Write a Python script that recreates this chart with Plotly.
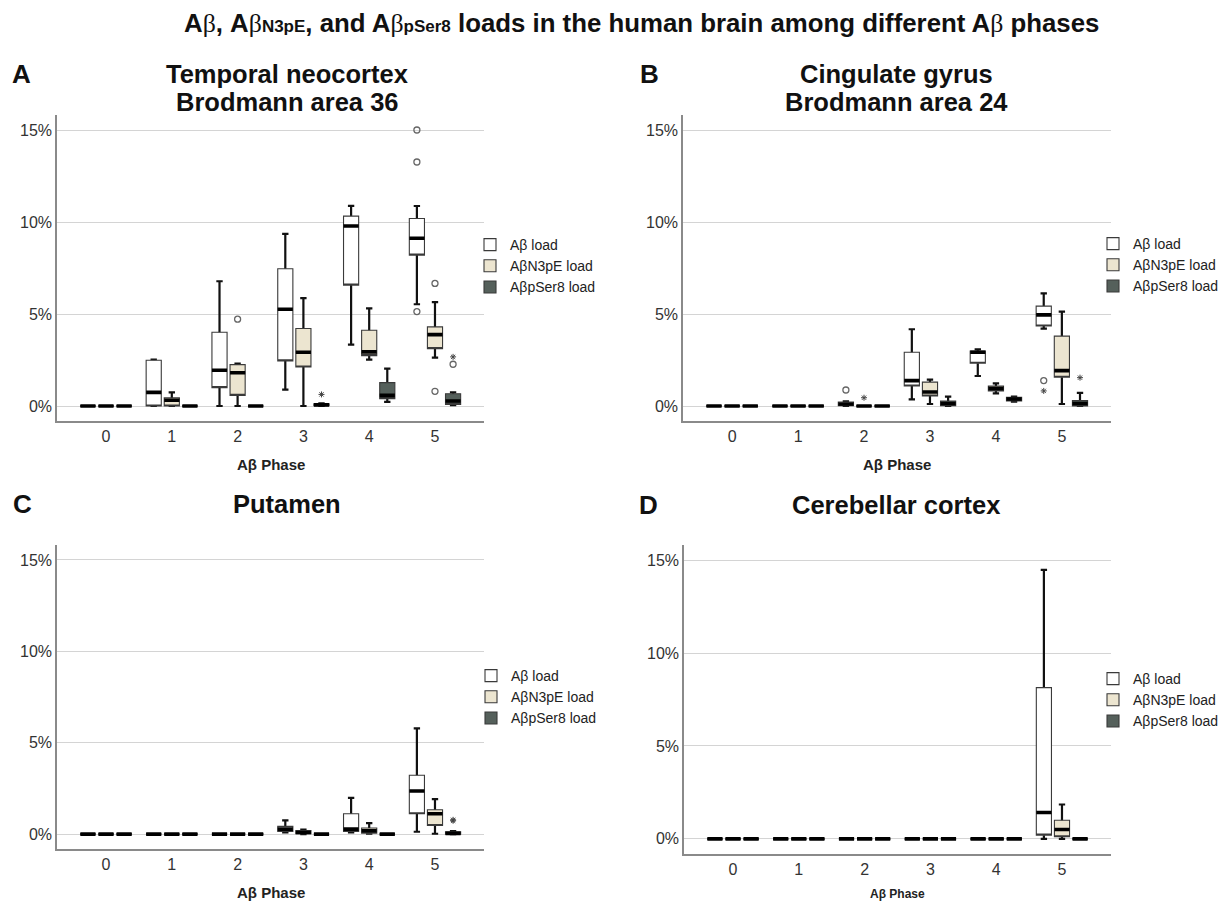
import plotly.graph_objects as go

# ---------------- data (percent load) ----------------
phases = [0, 1, 2, 3, 4, 5]
phase_labels = ["0", "1", "2", "3", "4", "5"]
series_names = ["Aβ load", "AβN3pE load", "AβpSer8 load"]
fill_colors = ["#ffffff", "#ece5d0", "#55605b"]

# each row: (lower whisker, Q1, median, Q3, upper whisker) for phases 0..5
A_ab = [(0, 0, 0, 0, 0), (0, 0, 0.74, 2.49, 2.52), (0, 1.00, 1.94, 4.01, 6.78),
        (0.89, 2.45, 5.26, 7.46, 9.36), (3.34, 6.57, 9.78, 10.32, 10.88), (5.53, 8.20, 9.12, 10.19, 10.87)]
A_n3pe = [(0, 0, 0, 0, 0), (0, 0, 0.31, 0.44, 0.74), (0, 0.58, 1.81, 2.25, 2.30),
          (0, 2.12, 2.92, 4.21, 5.86), (2.52, 2.74, 2.94, 4.12, 5.31), (2.63, 3.12, 3.88, 4.30, 5.64)]
A_pser8 = [(0, 0, 0, 0, 0), (0, 0, 0, 0, 0), (0, 0, 0, 0, 0),
           (0, 0.02, 0.06, 0.12, 0.15), (0.22, 0.40, 0.58, 1.27, 2.03), (0.04, 0.09, 0.27, 0.67, 0.74)]

B_ab = [(0, 0, 0, 0, 0), (0, 0, 0, 0, 0), (0, 0.02, 0.11, 0.22, 0.25),
        (0.36, 1.09, 1.38, 2.92, 4.17), (1.63, 2.32, 2.92, 2.99, 3.08), (4.20, 4.35, 4.95, 5.43, 6.12)]
B_n3pe = [(0, 0, 0, 0, 0), (0, 0, 0, 0, 0), (0, 0, 0, 0, 0),
          (0.11, 0.54, 0.76, 1.30, 1.43), (0.69, 0.82, 0.96, 1.09, 1.23), (0.11, 1.56, 1.92, 3.80, 5.13)]
B_pser8 = [(0, 0, 0, 0, 0), (0, 0, 0, 0, 0), (0, 0, 0, 0, 0),
           (0, 0.02, 0.14, 0.27, 0.51), (0.24, 0.27, 0.38, 0.47, 0.51), (0, 0, 0.14, 0.29, 0.71)]

C_ab = [(0, 0, 0, 0, 0), (0, 0, 0, 0, 0), (0, 0, 0, 0, 0),
        (0.09, 0.15, 0.27, 0.42, 0.75), (0.09, 0.15, 0.27, 1.11, 1.98), (0.13, 1.11, 2.36, 3.22, 5.78)]
C_n3pe = [(0, 0, 0, 0, 0), (0, 0, 0, 0, 0), (0, 0, 0, 0, 0),
          (0, 0.02, 0.09, 0.20, 0.24), (0.02, 0.05, 0.18, 0.33, 0.60), (0.02, 0.47, 1.11, 1.33, 1.91)]
C_pser8 = [(0, 0, 0, 0, 0), (0, 0, 0, 0, 0), (0, 0, 0, 0, 0),
           (0, 0, 0, 0, 0), (0, 0, 0, 0, 0), (0, 0, 0.04, 0.13, 0.16)]

D_ab = [(0, 0, 0, 0, 0), (0, 0, 0, 0, 0), (0, 0, 0, 0, 0),
        (0, 0, 0, 0, 0), (0, 0, 0, 0, 0), (0, 0.20, 1.42, 8.14, 14.48)]
D_n3pe = [(0, 0, 0, 0, 0), (0, 0, 0, 0, 0), (0, 0, 0, 0, 0),
          (0, 0, 0, 0, 0), (0, 0, 0, 0, 0), (0, 0.11, 0.50, 1.00, 1.85)]
D_pser8 = [(0, 0, 0, 0, 0), (0, 0, 0, 0, 0), (0, 0, 0, 0, 0),
           (0, 0, 0, 0, 0), (0, 0, 0, 0, 0), (0, 0, 0, 0, 0.04)]

# outliers: (phase, series index, value)
A_circles = [(5, 0, 15.0), (5, 0, 13.26), (5, 0, 5.13), (2, 1, 4.72), (5, 1, 6.66), (5, 1, 0.80), (5, 2, 2.27)]
A_stars = [(3, 2, 0.63), (5, 2, 2.67)]
B_circles = [(2, 0, 0.87), (5, 0, 1.38)]
B_stars = [(2, 1, 0.45), (5, 0, 0.82), (5, 2, 1.54)]
C_circles = []
C_stars = [(5, 2, 0.73), (5, 2, 0.78)]
D_circles = []
D_stars = []

panel_letters = ["A", "B", "C", "D"]
panel_titles = [["Temporal neocortex", "Brodmann area 36"], ["Cingulate gyrus", "Brodmann area 24"],
                ["Putamen"], ["Cerebellar cortex"]]
x_title = "Aβ Phase"
y_ticks = [0, 5, 10, 15]
y_tick_text = ["0%", "5%", "10%", "15%"]

# ---------------- layout geometry ----------------
OFF = 8                      # page body margin of the html page
W, H = 1229 - OFF, 902 - OFF
FONT = "Liberation Sans, Arial, sans-serif"
offsets = [-0.275, 0.0, 0.275]
BOXW = 0.23


def fx(x):
    return (x - OFF) / W


def fy(y):
    return 1 - (y - OFF) / H


panels = [
    dict(data=[A_ab, A_n3pe, A_pser8], circ=A_circles, star=A_stars,
         px=(57, 484), py=(115, 421), legy=229, legx=470, xt=464, xts=15),
    dict(data=[B_ab, B_n3pe, B_pser8], circ=B_circles, star=B_stars,
         px=(683, 1111), py=(115, 421), legy=228, legx=1093, xt=464, xts=15),
    dict(data=[C_ab, C_n3pe, C_pser8], circ=C_circles, star=C_stars,
         px=(57, 484), py=(545, 849), legy=660, legx=471, xt=892, xts=15),
    dict(data=[D_ab, D_n3pe, D_pser8], circ=D_circles, star=D_stars,
         px=(684, 1111), py=(545, 854), legy=663, legx=1093, xt=894, xts=12),
]

fig = go.Figure()
layout = dict(width=W, height=H, margin=dict(l=0, r=0, t=0, b=0),
              paper_bgcolor="white", plot_bgcolor="white", showlegend=True,
              boxmode="overlay", font=dict(family=FONT, color="#222"))
annotations = []

for pi, p in enumerate(panels):
    sfx = "" if pi == 0 else str(pi + 1)
    xa, ya = "x" + sfx, "y" + sfx
    leg = "legend" + sfx
    for si, series in enumerate(p["data"]):
        xs = [ph + offsets[si] for ph in phases]
        lo = [r[0] for r in series]
        q1 = [r[1] for r in series]
        md = [r[2] for r in series]
        q3 = [r[3] for r in series]
        hi = [r[4] for r in series]
        # whiskers (thick black with caps)
        fig.add_trace(go.Box(x=xs, q1=md, median=md, q3=md, lowerfence=lo, upperfence=hi,
                             width=BOXW, whiskerwidth=0.42, orientation="v", boxpoints=False,
                             line=dict(color="#111", width=2.2), fillcolor="rgba(0,0,0,0)",
                             xaxis=xa, yaxis=ya, showlegend=False, hoverinfo="skip"))
        # box body
        fig.add_trace(go.Box(x=xs, q1=q1, median=q1, q3=q3, lowerfence=q1, upperfence=q3,
                             width=BOXW, whiskerwidth=0, orientation="v", boxpoints=False,
                             line=dict(color="#3a3a3a", width=1.1), fillcolor=fill_colors[si],
                             name=series_names[si], legend=leg, showlegend=True,
                             xaxis=xa, yaxis=ya, hoverinfo="skip"))
        # thick median
        fig.add_trace(go.Box(x=xs, q1=md, median=md, q3=md, lowerfence=md, upperfence=md,
                             width=BOXW, whiskerwidth=0, orientation="v", boxpoints=False,
                             line=dict(color="#000", width=3.6), fillcolor="rgba(0,0,0,0)",
                             xaxis=xa, yaxis=ya, showlegend=False, hoverinfo="skip"))
    if p["circ"]:
        fig.add_trace(go.Scatter(x=[o[0] + offsets[o[1]] for o in p["circ"]], y=[o[2] for o in p["circ"]],
                                 mode="markers", marker=dict(symbol="circle-open", size=6,
                                 color="#666", line=dict(width=1.3, color="#666")),
                                 xaxis=xa, yaxis=ya, showlegend=False, hoverinfo="skip"))
    if p["star"]:
        fig.add_trace(go.Scatter(x=[o[0] + offsets[o[1]] for o in p["star"]], y=[o[2] for o in p["star"]],
                                 mode="markers", marker=dict(symbol="asterisk-open", size=5,
                                 color="#444", line=dict(width=1, color="#444")),
                                 xaxis=xa, yaxis=ya, showlegend=False, hoverinfo="skip"))

    x0, x1 = p["px"]
    y0, y1 = p["py"]
    layout["xaxis" + sfx] = dict(domain=[fx(x0), fx(x1)], anchor=ya, range=[-0.745, 5.745],
                                 tickvals=phases, ticktext=phase_labels, showgrid=False,
                                 zeroline=False, showline=True, linecolor="#8a8a8a", linewidth=1.5,
                                 ticks="", ticklabelstandoff=0,
                                 tickfont=dict(size=16, color="#333"), fixedrange=True)
    layout["yaxis" + sfx] = dict(domain=[fy(y1), fy(y0)], anchor=xa, range=[-0.815, 15.815],
                                 tickvals=y_ticks, ticktext=y_tick_text, showgrid=True,
                                 gridcolor="#d4d4d4", gridwidth=1.3, zeroline=False, showline=True,
                                 linecolor="#8a8a8a", linewidth=1.5, ticks="",
                                 tickfont=dict(size=16, color="#333"), fixedrange=True)
    layout[leg] = dict(x=fx(p["legx"]), y=fy(p["legy"]), xanchor="left", yanchor="top",
                       font=dict(size=14, color="#222"), bgcolor="rgba(0,0,0,0)",
                       borderwidth=0, tracegroupgap=0, itemclick=False)
    # axis title
    annotations.append(dict(text="<b>" + x_title + "</b>", x=fx((x0 + x1) / 2),
                            y=fy(p["xt"]), xref="paper", yref="paper",
                            showarrow=False, xanchor="center", yanchor="middle",
                            font=dict(size=p["xts"], color="#222")))

# panel letters and titles
letter_pos = [(21, 74), (649, 74), (23, 504), (648, 505)]
title_pos = [(287, 74), (896, 74), (287, 504), (896, 505)]
for i in range(4):
    annotations.append(dict(text="<b>" + panel_letters[i] + "</b>", x=fx(letter_pos[i][0]),
                            y=fy(letter_pos[i][1]), xref="paper", yref="paper", showarrow=False,
                            xanchor="center", yanchor="middle", font=dict(size=26, color="#111")))
    for li, line in enumerate(panel_titles[i]):
        annotations.append(dict(text="<b>" + line + "</b>", x=fx(title_pos[i][0]),
                                y=fy(title_pos[i][1] + 28 * li), xref="paper", yref="paper",
                                showarrow=False, xanchor="center", yanchor="middle",
                                font=dict(size=25.5, color="#111")))

beta = "<span style=\"font-family:'Liberation Serif', serif; font-weight:normal\">β</span>"
main_title = ("<b>A" + beta + ", A" + beta + "<span style='font-size:17px'>N3pE</span>, and A" + beta +
              "<span style='font-size:17px'>pSer8</span> loads in the human brain among different A" +
              beta + " phases</b>")
annotations.append(dict(text=main_title, x=fx(641), y=fy(23), xref="paper", yref="paper",
                        showarrow=False, xanchor="center", yanchor="middle",
                        font=dict(size=25.8, color="#111")))

layout["annotations"] = annotations
fig.update_layout(**layout)
fig.write_html("out.html")
